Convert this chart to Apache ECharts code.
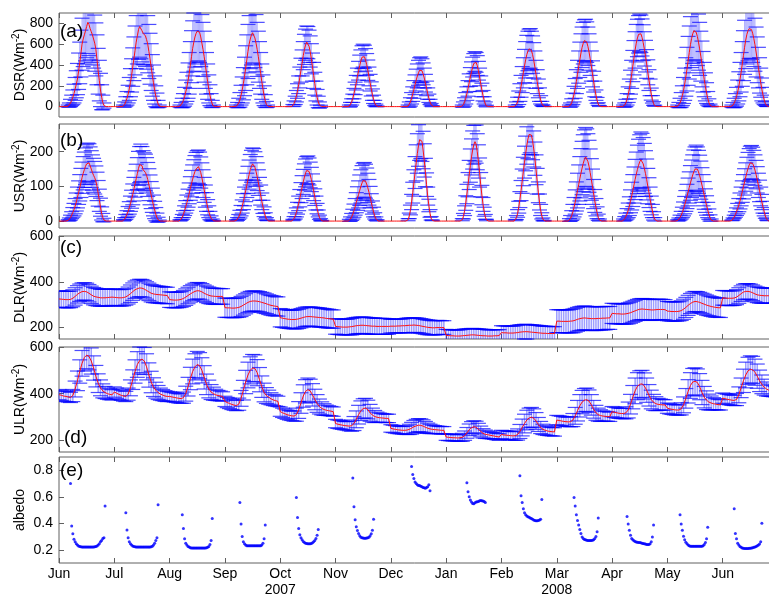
<!DOCTYPE html>
<html>
<head>
<meta charset="utf-8">
<script src="https://cdn.jsdelivr.net/npm/echarts@6/dist/echarts.min.js"></script>
<style>
  html, body { margin: 0; padding: 0; background: #fff; }
  #chart { width: 769px; height: 594px; }
</style>
</head>
<body>
<div id="chart"></div>
<script>
// Month ticks (Jun 2007 .. Jun 2008) and the year captions under them
const monthLabels = ['Jun', 'Jul', 'Aug', 'Sep', 'Oct', 'Nov', 'Dec', 'Jan', 'Feb', 'Mar', 'Apr', 'May', 'Jun'];
const yearLabels = { 4: '2007', 9: '2008' };

// Monthly mean diurnal cycles. Shortwave rows are half-hourly (48 per day),
// longwave rows are hourly (24 per day); each row spreads over its month on the time axis.
const dsrMean = [
  [0,0,0,0,0,0,0,0, 5,15,35,60,90,125,170,215, 265,340,420,510,600,650,690,730, 770,810,790,750,720,690,650,610, 550,450,340,250,160,90,40,10, 0,0,0,0,0,0,0,0],
  [0,0,0,0,0,0,0,0, 5,20,50,80,120,170,230,300, 380,460,540,620,680,740,770,760, 730,705,700,680,645,600,530,460, 380,300,230,160,100,60,25,5, 0,0,0,0,0,0,0,0],
  [0,0,0,0,0,0,0,0, 0,5,15,35,60,95,140,190, 250,320,400,480,560,620,670,705, 725,735,715,670,610,550,480,400, 320,240,170,110,60,25,5,0, 0,0,0,0,0,0,0,0],
  [0,0,0,0,0,0,0,0, 0,0,5,15,35,65,110,160, 220,290,370,450,530,600,650,690, 710,700,660,610,550,480,400,320, 240,170,105,55,20,5,0,0, 0,0,0,0,0,0,0,0],
  [0,0,0,0,0,0,0,0, 0,0,0,10,30,60,100,150, 210,280,350,420,490,550,595,620, 615,580,530,460,380,300,220,150, 90,45,15,3,0,0,0,0, 0,0,0,0,0,0,0,0],
  [0,0,0,0,0,0,0,0, 0,0,0,0,5,20,45,80, 125,175,230,290,345,395,440,475, 490,480,450,405,350,290,230,170, 115,70,35,12,3,0,0,0, 0,0,0,0,0,0,0,0],
  [0,0,0,0,0,0,0,0, 0,0,0,0,0,0,0,5, 20,45,80,120,165,210,255,295, 325,350,358,345,315,275,225,175, 125,80,45,18,4,0,0,0, 0,0,0,0,0,0,0,0],
  [0,0,0,0,0,0,0,0, 0,0,0,0,0,0,5,20, 45,80,125,175,230,285,335,380, 415,434,425,395,345,285,220,160, 105,60,25,5,0,0,0,0, 0,0,0,0,0,0,0,0],
  [0,0,0,0,0,0,0,0, 0,0,0,0,5,20,45,85, 135,195,260,325,390,450,500,535, 555,560,540,500,445,380,310,240, 175,115,65,30,10,2,0,0, 0,0,0,0,0,0,0,0],
  [0,0,0,0,0,0,0,0, 0,0,0,5,15,40,75,120, 175,240,310,380,450,515,570,610, 635,640,620,580,525,460,390,315, 240,170,110,60,25,5,0,0, 0,0,0,0,0,0,0,0],
  [0,0,0,0,0,0,0,0, 0,0,5,15,35,70,115,170, 235,310,390,470,545,610,660,695, 710,700,665,615,555,485,410,330, 255,185,120,70,30,8,0,0, 0,0,0,0,0,0,0,0],
  [0,0,0,0,0,0,0,0, 0,5,15,35,65,105,155,215, 285,360,440,520,595,655,700,730, 735,715,675,620,555,485,410,335, 260,190,130,80,40,12,2,0, 0,0,0,0,0,0,0,0],
  [0,0,0,0,0,0,0,0, 5,15,35,60,95,140,195,260, 330,410,490,570,640,695,730,750, 755,740,705,655,595,525,450,375, 300,230,165,110,65,30,10,2, 0,0,0,0,0,0,0,0]
];
const dsrStd = [
  [0,0,0,0,0,0,0,0, 10,20,35,50,70,90,110,130, 150,175,200,225,250,265,280,290, 300,300,300,300,295,290,280,270, 255,240,220,195,160,120,70,25, 0,0,0,0,0,0,0,0],
  [0,0,0,0,0,0,0,0, 10,25,45,65,85,110,135,160, 185,210,235,255,270,285,295,300, 300,300,300,295,285,275,260,245, 225,200,170,135,100,70,35,10, 0,0,0,0,0,0,0,0],
  [0,0,0,0,0,0,0,0, 0,10,25,45,65,90,115,140, 170,200,225,250,265,280,290,295, 295,295,290,285,275,260,245,225, 200,170,135,100,65,35,10,0, 0,0,0,0,0,0,0,0],
  [0,0,0,0,0,0,0,0, 0,0,10,25,45,70,95,125, 155,185,215,240,260,275,285,290, 290,290,285,275,260,245,225,200, 170,135,95,60,30,10,0,0, 0,0,0,0,0,0,0,0],
  [0,0,0,0,0,0,0,0, 0,0,0,10,25,40,55,70, 85,100,115,125,135,145,150,155, 155,155,150,145,135,125,110,95, 75,55,30,10,0,0,0,0, 0,0,0,0,0,0,0,0],
  [0,0,0,0,0,0,0,0, 0,0,0,0,10,20,30,40, 50,60,70,80,90,100,105,110, 110,110,108,105,98,90,80,68, 55,40,25,12,4,0,0,0, 0,0,0,0,0,0,0,0],
  [0,0,0,0,0,0,0,0, 0,0,0,0,0,0,0,10, 25,40,55,70,85,95,105,115, 120,120,120,115,105,95,85,70, 55,40,25,12,5,0,0,0, 0,0,0,0,0,0,0,0],
  [0,0,0,0,0,0,0,0, 0,0,0,0,0,0,10,25, 40,55,65,75,85,90,95,95, 95,95,95,95,90,85,75,65, 50,35,20,8,0,0,0,0, 0,0,0,0,0,0,0,0],
  [0,0,0,0,0,0,0,0, 0,0,0,0,10,25,45,65, 85,105,125,145,160,175,185,190, 190,190,185,180,170,155,135,115, 90,65,40,20,8,2,0,0, 0,0,0,0,0,0,0,0],
  [0,0,0,0,0,0,0,0, 0,0,0,10,20,35,55,75, 95,115,135,155,170,185,195,200, 200,200,195,185,175,160,145,125, 100,75,50,28,12,4,0,0, 0,0,0,0,0,0,0,0],
  [0,0,0,0,0,0,0,0, 0,0,10,20,35,55,75,95, 115,135,150,165,175,180,180,180, 180,180,178,172,165,152,138,120, 100,80,58,36,18,6,0,0, 0,0,0,0,0,0,0,0],
  [0,0,0,0,0,0,0,0, 0,10,25,45,70,95,125,155, 185,210,235,255,270,280,285,285, 285,285,280,270,255,240,220,195, 165,135,100,65,35,12,3,0, 0,0,0,0,0,0,0,0],
  [0,0,0,0,0,0,0,0, 10,25,45,65,90,115,140,165, 190,215,240,260,275,285,290,290, 290,285,280,270,255,240,220,195, 170,140,110,75,45,20,8,2, 0,0,0,0,0,0,0,0]
];

const usrMean = [
  [0,0,0,0,0,0,0,0, 2,5,10,17,25,33,43,55, 68,82,96,110,125,138,148,158, 165,170,168,160,150,140,132,125, 115,100,80,60,40,22,10,3, 0,0,0,0,0,0,0,0],
  [0,0,0,0,0,0,0,0, 2,6,12,20,28,38,50,63, 77,92,107,122,137,152,163,168, 160,148,143,140,132,120,105,90, 75,60,45,32,20,10,4,1, 0,0,0,0,0,0,0,0],
  [0,0,0,0,0,0,0,0, 0,2,6,12,20,30,41,53, 66,80,94,108,121,133,143,150, 155,157,152,140,125,108,90,72, 55,40,27,16,8,3,1,0, 0,0,0,0,0,0,0,0],
  [0,0,0,0,0,0,0,0, 0,0,2,6,12,20,30,42, 56,71,87,103,119,134,148,158, 165,163,155,143,128,111,93,75, 57,41,27,15,6,2,0,0, 0,0,0,0,0,0,0,0],
  [0,0,0,0,0,0,0,0, 0,0,0,3,8,15,25,37, 51,66,82,98,113,127,139,146, 148,143,133,120,104,87,69,52, 36,22,11,4,1,0,0,0, 0,0,0,0,0,0,0,0],
  [0,0,0,0,0,0,0,0, 0,0,0,0,2,6,12,20, 30,41,53,65,77,89,100,110, 117,119,115,107,96,83,69,54, 39,26,15,7,2,0,0,0, 0,0,0,0,0,0,0,0],
  [0,0,0,0,0,0,0,0, 0,0,0,0,0,0,0,4, 15,32,55,82,110,140,168,195, 218,235,240,230,205,175,140,105, 72,45,22,8,2,0,0,0, 0,0,0,0,0,0,0,0],
  [0,0,0,0,0,0,0,0, 0,0,0,0,0,0,4,14, 30,52,78,105,133,160,185,205, 220,229,222,200,172,140,105,75, 48,27,12,3,0,0,0,0, 0,0,0,0,0,0,0,0],
  [0,0,0,0,0,0,0,0, 0,0,0,0,3,10,22,40, 62,88,115,143,170,195,218,237, 250,255,248,232,208,180,148,115, 83,55,32,15,5,1,0,0, 0,0,0,0,0,0,0,0],
  [0,0,0,0,0,0,0,0, 0,0,0,3,8,16,27,40, 55,71,88,105,122,138,153,167, 178,185,182,172,158,140,120,99, 78,58,40,24,11,3,0,0, 0,0,0,0,0,0,0,0],
  [0,0,0,0,0,0,0,0, 0,0,3,7,13,21,31,43, 57,72,88,104,120,135,149,161, 171,177,174,165,152,137,120,101, 82,63,45,29,15,5,0,0, 0,0,0,0,0,0,0,0],
  [0,0,0,0,0,0,0,0, 0,2,5,10,17,25,35,46, 58,71,84,97,110,122,133,143, 150,154,150,142,131,118,104,89, 74,59,45,32,20,9,3,0, 0,0,0,0,0,0,0,0],
  [0,0,0,0,0,0,0,0, 2,6,12,19,27,36,46,58, 71,85,99,113,127,140,152,162, 168,170,166,158,147,134,119,103, 87,71,55,40,27,15,6,2, 0,0,0,0,0,0,0,0]
];
const usrStd = [
  [0,0,0,0,0,0,0,0, 2,4,7,10,14,18,22,26, 30,34,38,42,45,48,51,53, 55,55,55,54,53,51,49,47, 44,41,37,32,26,19,12,5, 0,0,0,0,0,0,0,0],
  [0,0,0,0,0,0,0,0, 2,4,7,10,14,18,22,26, 30,34,38,42,46,49,52,54, 55,55,54,53,51,49,46,43, 39,35,30,25,19,13,7,2, 0,0,0,0,0,0,0,0],
  [0,0,0,0,0,0,0,0, 0,2,4,7,10,14,18,22, 26,30,34,38,41,44,46,48, 48,48,47,45,43,40,36,32, 27,22,17,12,7,3,1,0, 0,0,0,0,0,0,0,0],
  [0,0,0,0,0,0,0,0, 0,0,2,4,7,11,15,19, 23,27,31,35,39,42,44,46, 46,46,45,43,40,37,33,29, 24,19,14,9,4,1,0,0, 0,0,0,0,0,0,0,0],
  [0,0,0,0,0,0,0,0, 0,0,0,2,5,9,13,17, 21,25,29,33,36,38,40,40, 40,39,37,35,32,28,24,20, 15,10,6,3,1,0,0,0, 0,0,0,0,0,0,0,0],
  [0,0,0,0,0,0,0,0, 0,0,0,0,3,6,10,14, 19,24,29,34,39,44,48,50, 50,50,49,46,42,37,31,25, 19,14,9,5,2,0,0,0, 0,0,0,0,0,0,0,0],
  [0,0,0,0,0,0,0,0, 0,0,0,0,0,0,0,3, 8,14,22,30,38,46,52,57, 60,60,60,58,54,48,41,34, 26,18,11,5,1,0,0,0, 0,0,0,0,0,0,0,0],
  [0,0,0,0,0,0,0,0, 0,0,0,0,0,0,3,8, 14,21,28,35,42,48,52,55, 56,56,55,52,48,42,35,28, 20,13,7,2,0,0,0,0, 0,0,0,0,0,0,0,0],
  [0,0,0,0,0,0,0,0, 0,0,0,0,2,6,11,17, 23,29,35,41,46,50,54,57, 58,58,57,55,52,48,43,37, 30,23,16,9,4,1,0,0, 0,0,0,0,0,0,0,0],
  [0,0,0,0,0,0,0,0, 0,0,0,4,8,14,21,28, 35,42,50,57,64,71,77,82, 85,85,84,80,75,68,60,51, 42,33,25,17,9,3,0,0, 0,0,0,0,0,0,0,0],
  [0,0,0,0,0,0,0,0, 0,0,3,6,10,15,21,27, 33,40,46,52,58,64,70,75, 78,80,79,76,72,66,59,51, 43,35,27,19,12,5,0,0, 0,0,0,0,0,0,0,0],
  [0,0,0,0,0,0,0,0, 0,2,4,7,11,15,20,25, 30,35,40,45,50,54,58,62, 64,65,64,62,59,55,50,45, 40,34,28,22,15,9,3,0, 0,0,0,0,0,0,0,0],
  [0,0,0,0,0,0,0,0, 1,3,5,8,11,15,19,23, 27,31,35,38,41,44,46,47, 48,48,47,46,44,41,38,35, 31,27,22,17,12,7,3,1, 0,0,0,0,0,0,0,0]
];

const dlrMean = [
  [325,324,323,322,322,323,328,336,345,352,357,358,356,350,343,337,334,332,330,330,330,331,332,333],
  [332,331,330,330,331,334,340,348,357,365,370,373,372,368,362,356,350,347,345,344,343,342,341,340],
  [322,321,320,320,321,323,327,333,340,347,353,358,361,360,356,350,345,341,338,337,336,336,336,336],
  [287,286,286,285,285,286,288,292,298,304,310,314,316,316,315,313,310,307,304,300,297,295,293,292],
  [243,241,239,237,236,235,235,236,238,241,244,247,248,248,247,246,245,244,243,242,240,239,238,237],
  [205,204,203,202,202,202,203,204,206,208,209,210,210,209,208,207,206,206,205,205,205,205,205,205],
  [206,206,206,207,207,208,208,209,210,210,211,210,209,207,205,203,201,200,199,199,200,200,200,200],
  [166,165,164,164,163,163,163,164,165,166,167,168,168,167,166,165,164,164,163,163,163,164,164,165],
  [178,177,177,176,176,176,177,178,180,181,182,182,181,180,179,178,177,176,175,175,174,174,174,174],
  [228,228,227,227,227,227,228,229,232,236,239,241,242,241,240,239,239,239,240,240,241,241,242,242],
  [262,261,260,260,259,259,260,262,265,269,273,277,280,281,280,279,278,277,277,278,279,279,279,278],
  [272,271,270,270,270,271,274,280,288,297,305,311,314,313,310,306,302,298,295,292,290,288,287,286],
  [330,329,328,328,328,329,333,340,348,355,358,358,356,352,347,343,341,340,339,339,339,339,340,340]
];
const dlrStd = [
  [36,36,36,36,36,36,37,38,38,38,38,38,38,38,38,38,38,38,37,37,37,37,36,36],
  [36,36,36,36,36,36,37,38,38,38,38,38,38,38,38,38,38,38,37,37,37,37,36,36],
  [34,34,34,34,34,34,35,36,36,36,36,36,36,36,36,36,36,36,35,35,35,35,34,34],
  [42,42,42,42,42,42,43,44,44,44,44,44,44,44,44,44,44,44,43,43,43,43,42,42],
  [40,40,40,40,40,40,41,42,42,42,42,42,42,42,42,42,42,42,41,41,41,41,40,40],
  [34,34,34,34,34,34,35,36,36,36,36,36,36,36,36,36,36,36,35,35,35,35,34,34],
  [30,30,30,30,30,30,31,32,32,32,32,32,32,32,32,32,32,32,31,31,31,31,30,30],
  [26,26,26,26,26,26,27,28,28,28,28,28,28,28,28,28,28,28,27,27,27,27,26,26],
  [30,30,30,30,30,30,31,32,32,32,32,32,32,32,32,32,32,32,31,31,31,31,30,30],
  [50,50,50,50,50,50,51,52,52,52,52,52,52,52,52,52,52,52,51,51,51,51,50,50],
  [44,44,44,44,44,44,45,46,46,46,46,46,46,46,46,46,46,46,45,45,45,45,44,44],
  [42,42,42,42,42,42,43,44,44,44,44,44,44,44,44,44,44,44,43,43,43,43,42,42],
  [32,32,32,32,32,32,33,34,34,34,34,34,34,34,34,34,34,34,33,33,33,33,32,32]
];

const ulrMean = [
  [396,393,390,388,386,384,392,420,455,495,530,555,565,560,540,510,475,445,425,412,405,400,397,395],
  [407,402,397,393,390,388,398,425,460,495,525,542,548,540,515,480,450,428,415,405,398,394,390,388],
  [388,386,384,382,380,379,383,400,430,465,495,515,525,520,500,470,440,420,407,400,395,392,390,388],
  [367,362,358,354,351,349,355,380,415,450,480,500,510,508,490,460,430,405,392,385,378,373,370,367],
  [323,318,314,310,307,305,304,310,330,360,390,410,417,412,395,375,358,345,337,332,329,327,325,323],
  [272,269,267,265,263,262,261,263,272,290,310,327,336,338,332,318,308,302,299,297,296,295,294,294],
  [251,249,247,245,244,243,243,244,247,252,258,262,265,264,261,256,252,249,247,246,245,244,243,243],
  [214,213,212,211,211,210,211,213,220,232,245,254,258,256,248,238,230,226,224,222,220,218,216,214],
  [225,223,222,221,220,219,220,225,238,255,272,287,296,299,295,283,268,255,247,243,240,238,237,236],
  [287,285,283,281,280,279,280,287,305,327,348,364,372,374,368,352,333,318,310,306,304,303,302,301],
  [323,320,318,316,315,315,318,330,355,385,412,432,440,442,433,415,393,375,363,357,354,353,352,352],
  [338,335,333,331,330,330,335,352,380,410,435,450,453,448,430,405,385,372,364,360,357,355,353,352],
  [381,378,376,374,372,371,375,395,425,455,480,498,504,502,492,475,455,440,428,420,415,412,410,408]
];
const ulrStd = [
  [22,22,22,22,22,22,26,34,42,50,55,58,58,58,56,52,46,40,34,30,26,24,23,22],
  [22,22,22,22,22,22,26,34,42,50,55,58,58,58,56,52,46,40,34,30,26,24,23,22],
  [20,20,20,20,20,20,24,32,40,48,53,56,56,56,54,50,44,38,32,28,24,22,21,20],
  [22,22,22,22,22,22,26,34,42,50,55,58,58,58,56,52,46,40,34,30,26,24,23,22],
  [20,20,20,20,20,20,22,28,36,44,48,50,50,50,48,44,38,32,28,25,22,21,20,20],
  [18,18,18,18,18,18,20,24,30,36,40,42,42,42,40,36,30,26,22,20,19,18,18,18],
  [16,16,16,16,16,16,17,19,22,25,27,28,28,28,27,25,22,20,18,17,16,16,16,16],
  [14,14,14,14,14,14,15,17,20,23,25,26,26,26,25,23,20,18,16,15,14,14,14,14],
  [18,18,18,18,18,18,20,24,30,36,40,42,42,42,40,36,30,26,22,20,19,18,18,18],
  [20,20,20,20,20,20,22,28,36,44,48,50,50,50,48,44,38,32,28,25,22,21,20,20],
  [22,22,22,22,22,22,26,34,42,50,55,58,58,58,56,52,46,40,34,30,26,24,23,22],
  [22,22,22,22,22,22,26,34,42,50,55,58,58,58,56,52,46,40,34,30,26,24,23,22],
  [22,22,22,22,22,22,26,34,42,50,55,58,58,58,56,52,46,40,34,30,26,24,23,22]
];

// Albedo, half-hourly (48 slots per month): first daylight slot and the values that follow
const albedoStart = [10, 10, 11, 13, 14, 15, 18, 18, 16, 15, 13, 11, 10];
const albedoValues = [
  [0.70,0.38,0.32,0.28,0.26,0.245,0.235,0.228,0.224,0.222,0.22,0.22,0.22,0.22,0.22,0.22,0.22,0.22,0.22,0.22,0.22,0.222,0.224,0.228,0.235,0.245,0.26,0.27,0.285,0.29,0.53],
  [0.48,0.35,0.29,0.26,0.245,0.235,0.228,0.224,0.222,0.22,0.22,0.22,0.22,0.22,0.22,0.22,0.22,0.22,0.22,0.22,0.22,0.22,0.222,0.226,0.235,0.25,0.27,0.29,0.54],
  [0.465,0.36,0.283,0.25,0.235,0.225,0.22,0.215,0.213,0.213,0.213,0.213,0.213,0.213,0.213,0.213,0.213,0.213,0.213,0.213,0.213,0.215,0.218,0.225,0.24,0.27,0.436],
  [0.556,0.395,0.30,0.26,0.245,0.235,0.23,0.23,0.23,0.23,0.23,0.23,0.23,0.23,0.23,0.23,0.23,0.23,0.23,0.235,0.25,0.283,0.387],
  [0.595,0.444,0.361,0.314,0.29,0.275,0.262,0.255,0.25,0.247,0.245,0.245,0.246,0.248,0.252,0.26,0.27,0.285,0.309,0.353],
  [0.742,0.524,0.426,0.374,0.345,0.322,0.305,0.295,0.29,0.288,0.287,0.287,0.288,0.29,0.295,0.305,0.32,0.348,0.431],
  [0.828,0.768,0.737,0.711,0.70,0.69,0.685,0.685,0.68,0.675,0.67,0.668,0.665,0.67,0.675,0.69,0.646],
  [0.706,0.638,0.60,0.575,0.56,0.55,0.548,0.555,0.56,0.562,0.565,0.57,0.572,0.57,0.568,0.565,0.556],
  [0.758,0.607,0.556,0.509,0.48,0.465,0.455,0.45,0.445,0.44,0.435,0.43,0.425,0.42,0.418,0.418,0.42,0.425,0.43,0.58],
  [0.594,0.53,0.465,0.42,0.387,0.353,0.322,0.296,0.285,0.278,0.275,0.272,0.27,0.27,0.27,0.27,0.272,0.275,0.285,0.30,0.335,0.439],
  [0.451,0.395,0.348,0.309,0.285,0.275,0.268,0.262,0.258,0.256,0.255,0.254,0.252,0.25,0.248,0.245,0.243,0.24,0.239,0.24,0.245,0.26,0.296,0.387],
  [0.465,0.395,0.348,0.301,0.275,0.257,0.245,0.236,0.23,0.227,0.226,0.226,0.226,0.226,0.226,0.226,0.226,0.226,0.226,0.226,0.23,0.24,0.255,0.283,0.369],
  [0.509,0.322,0.283,0.249,0.235,0.225,0.218,0.214,0.212,0.21,0.21,0.21,0.21,0.211,0.212,0.214,0.216,0.218,0.22,0.225,0.23,0.235,0.244,0.26,0.40]
];

const FONT = '"Liberation Sans", Arial, Helvetica, sans-serif';
const FRAME = '#606060';
const CAP = 'rgba(0,0,255,0.7)';
const CAP_HALF = 7.5;

const panels = [
  { name: 'DSR', top: 13, height: 104, min: -100, max: 900, ticks: [0, 200, 400, 600, 800], mean: dsrMean, std: dsrStd, tag: '(a)', tagY: 33 },
  { name: 'USR', top: 124, height: 104, min: -20, max: 280, ticks: [0, 100, 200], mean: usrMean, std: usrStd, tag: '(b)', tagY: 142 },
  { name: 'DLR', top: 236, height: 103, min: 150, max: 600, ticks: [200, 400, 600], mean: dlrMean, std: dlrStd, tag: '(c)', tagY: 249 },
  { name: 'ULR', top: 347, height: 105, min: 150, max: 600, ticks: [200, 400, 600], mean: ulrMean, std: ulrStd, tag: '(d)', tagY: 439, tagX: 64 },
  { name: 'albedo', top: 457, height: 106, min: 0.1, max: 0.9, ticks: [0.2, 0.4, 0.6, 0.8], tag: '(e)', tagY: 472 }
];

const NM = monthLabels.length;
const grids = [], xAxes = [], yAxes = [], series = [], graphics = [];

// Error bar: vertical stem plus a cap at each end, kept inside the panel
function makeErrRender(stemColor, stemWidth) {
  return function (params, api) {
    const x = api.value(0), lo = api.value(1), hi = api.value(2);
    const pLo = api.coord([x, lo]);
    const pHi = api.coord([x, hi]);
    const cs = params.coordSys;
    const top = cs.y, bot = cs.y + cs.height, left = cs.x;
    const cx = pLo[0];
    const kids = [];
    const y1 = Math.max(top, Math.min(bot, pHi[1]));
    const y2 = Math.max(top, Math.min(bot, pLo[1]));
    if (y2 > y1) {
      kids.push({ type: 'line', shape: { x1: cx, y1: y1, x2: cx, y2: y2 }, style: { stroke: stemColor, lineWidth: stemWidth } });
    }
    [pHi[1], pLo[1]].forEach(function (yy) {
      if (yy >= top && yy <= bot) {
        kids.push({ type: 'line', shape: { x1: Math.max(left, cx - CAP_HALF), y1: yy, x2: cx + CAP_HALF, y2: yy }, style: { stroke: CAP, lineWidth: 1.2 } });
      }
    });
    return { type: 'group', children: kids };
  };
}

panels.forEach(function (p, i) {
  const last = i === panels.length - 1;
  // The time axis runs a few pixels past the right edge of the page
  grids.push({
    left: 59, top: p.top, width: 719, height: p.height, show: true,
    borderColor: FRAME, borderWidth: 1, backgroundColor: 'transparent',
    containLabel: false, outerBoundsMode: 'none'
  });

  const tickStyle = { show: true, inside: true, length: 5, lineStyle: { color: FRAME, width: 1 } };
  xAxes.push({
    type: 'value', gridIndex: i, min: 0, max: NM, interval: 1, position: 'bottom',
    axisLine: { show: false }, splitLine: { show: false }, axisTick: tickStyle,
    axisLabel: last ? {
      show: true, margin: 3, color: '#000', fontFamily: FONT, fontSize: 14, lineHeight: 16,
      formatter: function (v) {
        const k = Math.round(v);
        if (k < 0 || k >= NM) return '';
        return monthLabels[k] + (yearLabels[k] ? '\n' + yearLabels[k] : '');
      }
    } : { show: false }
  });
  xAxes.push({
    type: 'value', gridIndex: i, min: 0, max: NM, interval: 1, position: 'top',
    axisLine: { show: false }, splitLine: { show: false }, axisTick: tickStyle, axisLabel: { show: false }
  });

  const nameRich = p.name === 'albedo' ? '{m|albedo}' : '{m|' + p.name + '(Wm}{s|-2}{m|)}';
  yAxes.push({
    type: 'value', gridIndex: i, min: p.min, max: p.max,
    axisLine: { show: false }, splitLine: { show: false },
    axisTick: { show: true, inside: true, length: 5, customValues: p.ticks, lineStyle: { color: FRAME } },
    axisLabel: {
      show: true, customValues: p.ticks, margin: 6, color: '#000', fontFamily: FONT, fontSize: 14,
      formatter: function (v) { return p.name === 'albedo' ? v.toFixed(1) : String(v); }
    },
    name: nameRich, nameLocation: 'middle', nameRotate: 90, nameGap: 30, nameMoveOverlap: false,
    nameTextStyle: {
      rich: {
        m: { fontFamily: FONT, fontSize: 14, color: '#000', lineHeight: 18 },
        s: { fontFamily: FONT, fontSize: 10, color: '#000', verticalAlign: 'top', lineHeight: 18 }
      }
    }
  });

  graphics.push({
    type: 'text', left: p.tagX || 60, top: p.tagY - 11, z: 50,
    style: { text: p.tag, font: '19px ' + FONT, fill: '#000' }
  });

  const xi = i * 2;
  if (p.mean) {
    const lineData = [], errData = [];
    const perDay = p.mean[0].length;
    p.mean.forEach(function (row, m) {
      row.forEach(function (v, k) {
        const x = m + k / row.length;
        lineData.push([x, v]);
        const s = (p.std[m] && p.std[m][k]) || 0;
        if (s > 0) errData.push([x, v - s, v + s]);
      });
    });
    const fine = perDay > 24;
    series.push({
      type: 'custom', xAxisIndex: xi, yAxisIndex: i,
      renderItem: makeErrRender(fine ? 'rgba(40,40,255,0.38)' : 'rgba(40,40,255,0.45)', fine ? 1 : 1.5),
      data: errData, silent: true, animation: false, z: 2,
      encode: { x: 0, y: [1, 2] }
    });
    series.push({
      type: 'line', xAxisIndex: xi, yAxisIndex: i, data: lineData, showSymbol: false,
      lineStyle: { color: '#ff1010', width: 1 }, silent: true, animation: false, z: 5
    });
  } else {
    const pts = [];
    albedoValues.forEach(function (vals, m) {
      vals.forEach(function (v, k) {
        pts.push([m + (albedoStart[m] + k) / 48, v]);
      });
    });
    series.push({
      type: 'scatter', xAxisIndex: xi, yAxisIndex: i, data: pts,
      symbolSize: 3, itemStyle: { color: '#0000ff' }, silent: true, animation: false
    });
  }
});

const chart = echarts.init(document.getElementById('chart'), null, { renderer: 'canvas' });
chart.setOption({
  animation: false,
  backgroundColor: '#fff',
  grid: grids,
  xAxis: xAxes,
  yAxis: yAxes,
  series: series,
  graphic: graphics
});
</script>
</body>
</html>
